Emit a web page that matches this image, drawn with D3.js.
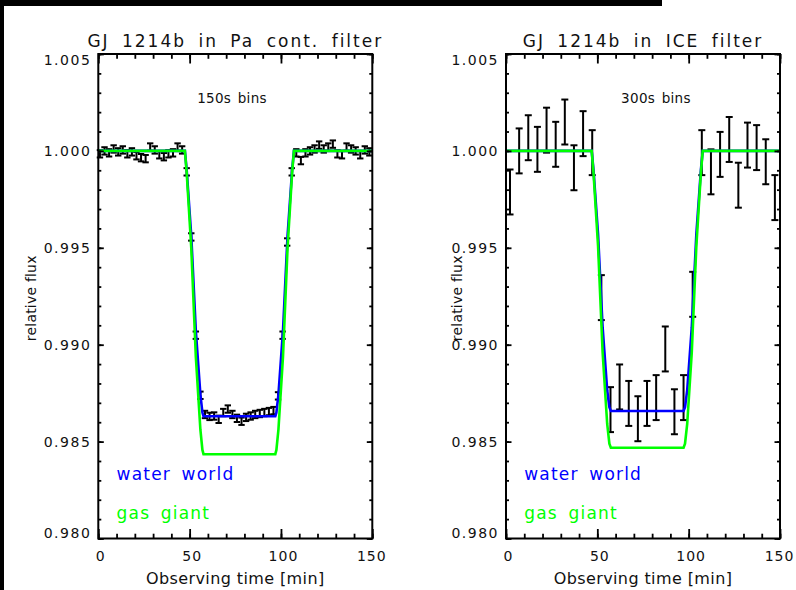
<!DOCTYPE html>
<html>
<head>
<meta charset="utf-8">
<script src="https://cdn.jsdelivr.net/npm/d3@7"></script>
<style>
  body { margin: 0; background: #fff; }
  text { font-family: "DejaVu Sans", sans-serif; fill: #111; }
</style>
</head>
<body>
<svg id="chart" width="796" height="590"></svg>
<script>
// axis ticks
const xMajor = [0, 50, 100, 150];
const xMinor = [0, 10, 20, 30, 40, 50, 60, 70, 80, 90, 100, 110, 120, 130, 140, 150];
const yMajor = [0.980, 0.985, 0.990, 0.995, 1.000, 1.005];
const yMinor = [0.980, 0.981, 0.982, 0.983, 0.984, 0.985, 0.986, 0.987, 0.988, 0.989, 0.990,
                0.991, 0.992, 0.993, 0.994, 0.995, 0.996, 0.997, 0.998, 0.999, 1.000,
                1.001, 1.002, 1.003, 1.004, 1.005];

// Pa cont. filter, 150s bins
const paTime = [0.9, 3.4, 5.9, 8.4, 10.9, 13.4, 15.9, 18.4, 20.9, 23.4, 25.9, 28.4, 30.9, 33.4, 35.9,
                38.4, 40.9, 43.4, 45.9, 48.4, 50.9, 53.4, 55.9, 58.4, 60.9, 63.4, 65.9, 68.4, 70.9,
                73.4, 75.9, 78.4, 80.9, 83.4, 85.9, 88.4, 90.9, 93.4, 95.9, 98.4, 100.9, 103.4, 105.9,
                108.4, 110.9, 113.4, 115.9, 118.4, 120.9, 123.4, 125.9, 128.4, 130.9, 133.4, 135.9,
                138.4, 140.9, 143.4, 145.9, 148.4];
const paFlux = [0.99985, 1.00000, 0.99990, 1.00010, 0.99995, 1.00005, 0.99985, 0.99995, 0.99975,
                0.99965, 0.99960, 1.00020, 1.00005, 0.99980, 0.99970, 0.99985, 0.99990, 1.00020, 1.00005,
                0.99892, 0.99556, 0.99049, 0.98739,
                0.98640, 0.98630, 0.98632, 0.98615, 0.98650, 0.98668, 0.98640, 0.98620,
                0.98605, 0.98625, 0.98632, 0.98640, 0.98645, 0.98650, 0.98655, 0.98660,
                0.98736, 0.99049, 0.99530, 0.99892,
                0.99990, 0.99950, 0.99990, 1.00000, 1.00010, 1.00030, 1.00010, 1.00020, 1.00035,
                0.99985, 0.99980, 1.00020, 1.00010, 1.00000, 0.99980, 1.00005, 0.99995];
const paErr = 0.00019;

// ICE filter, 300s bins
const iceTime = [2.2, 7.2, 12.2, 17.2, 22.2, 27.2, 32.2, 37.2, 42.2, 47.2, 52.2, 57.2, 62.2, 67.2, 72.2,
                 77.2, 82.2, 87.2, 92.2, 97.2, 102.2, 107.2, 112.2, 117.2, 122.2, 127.2, 132.2, 137.2,
                 142.2, 147.2];
const iceFlux = [0.99788, 1.00000, 1.00068, 1.00008, 1.00107, 1.00034, 1.00149, 0.99913, 1.00089, 0.99991,
                 0.99243, 0.98665, 0.98782, 0.98697, 0.98618, 0.98697, 0.98727, 0.98978, 0.98654, 0.98727,
                 0.99260, 0.99991, 0.99892, 0.99982, 1.00059, 0.99823, 1.00030, 1.00017, 0.99944, 0.99759];
const iceErr = 0.00116;

// model light curves
const paModelTime = [0, 47.4, 48.4, 50.9, 53.4, 55.9, 57.0, 57.6, 96.9, 97.5, 98.6, 101.1, 103.6, 106.1, 107.1, 150];
const paWater = [1, 1, 0.99900, 0.99561, 0.99070, 0.98741, 0.98650, 0.98631,
                 0.98631, 0.98650, 0.98741, 0.99070, 0.99561, 0.99900, 1, 1];
const paGas = [1, 1, 0.99886, 0.99498, 0.98937, 0.98560, 0.98457, 0.98435,
               0.98435, 0.98457, 0.98560, 0.98937, 0.99498, 0.99886, 1, 1];

const iceModelTime = [0, 46.9, 47.9, 50.4, 52.9, 55.4, 56.6, 57.4, 97.2, 98.0, 99.2, 101.7, 104.2, 106.7, 107.7, 150];
const iceWater = [1, 1, 0.99902, 0.99569, 0.99089, 0.98765, 0.98677, 0.98658,
                  0.98658, 0.98677, 0.98765, 0.99089, 0.99569, 0.99902, 1, 1];
const iceGas = [1, 1, 0.99888, 0.99508, 0.98960, 0.98591, 0.98489, 0.98468,
                0.98468, 0.98489, 0.98591, 0.98960, 0.99508, 0.99888, 1, 1];

const svg = d3.select("#chart");

// black strips along the edge of the original image
svg.append("rect").attr("x", 0).attr("y", 0).attr("width", 662).attr("height", 6).attr("fill", "#000");
svg.append("rect").attr("x", 0).attr("y", 0).attr("width", 4).attr("height", 590).attr("fill", "#000");

const plotTop = 54, plotBottom = 538.5, plotW = 274;

const panels = [
  { left: 98.3, title: "GJ 1214b in Pa cont. filter", bins: "150s bins", binsX: 73.2,
    time: paTime, flux: paFlux, err: paErr, cap: 3.2,
    mTime: paModelTime, water: paWater, gas: paGas, ylabX: 36 },
  { left: 506, title: "GJ 1214b in ICE filter", bins: "300s bins", binsX: 82.1,
    time: iceTime, flux: iceFlux, err: iceErr, cap: 3.5,
    mTime: iceModelTime, water: iceWater, gas: iceGas, ylabX: 462 }
];

panels.forEach(function(p) {
  var x = d3.scaleLinear().domain([0, 150]).range([p.left, p.left + plotW]);
  var y = d3.scaleLinear().domain([0.980, 1.005]).range([plotBottom, plotTop]);
  var g = svg.append("g");

  // error bars
  var bars = g.append("g").attr("stroke", "#000").attr("stroke-width", 2).attr("fill", "none");
  p.time.forEach(function(t, i) {
    var cx = x(t), y0 = y(p.flux[i] - p.err), y1 = y(p.flux[i] + p.err);
    bars.append("line").attr("x1", cx).attr("x2", cx).attr("y1", y0).attr("y2", y1);
    bars.append("line").attr("x1", cx - p.cap).attr("x2", cx + p.cap).attr("y1", y0).attr("y2", y0);
    bars.append("line").attr("x1", cx - p.cap).attr("x2", cx + p.cap).attr("y1", y1).attr("y2", y1);
  });

  // models
  var line = d3.line().x(function(d) { return x(d[0]); }).y(function(d) { return y(d[1]); });
  g.append("path")
    .attr("d", line(p.mTime.map(function(t, i) { return [t, p.water[i]]; })))
    .attr("fill", "none").attr("stroke", "#0000ff").attr("stroke-width", 2.6);
  g.append("path")
    .attr("d", line(p.mTime.map(function(t, i) { return [t, p.gas[i]]; })))
    .attr("fill", "none").attr("stroke", "#00ff00").attr("stroke-width", 2.6);

  // axes, ticks inward on all four sides
  function style(ax) {
    ax.select(".domain").remove();
    ax.selectAll(".tick line").attr("stroke", "#000").attr("stroke-width", 1.8);
    ax.selectAll("text").style("font-family", "DejaVu Sans").style("font-size", "14px")
      .style("letter-spacing", "1.5px").attr("fill", "#111");
  }
  var fmt = d3.format(".3f");
  var bx = g.append("g").attr("transform", "translate(0," + plotBottom + ")")
    .call(d3.axisBottom(x).tickValues(xMajor).tickSize(-9.5).tickPadding(13).tickFormat(d3.format("d")));
  style(bx);
  bx.selectAll("text").style("letter-spacing", "1px").attr("dx", function(d) { return d === 150 ? "-1" : "2"; });
  style(g.append("g").attr("transform", "translate(0," + plotBottom + ")")
    .call(d3.axisBottom(x).tickValues(xMinor).tickSize(-4.8).tickFormat("")));
  style(g.append("g").attr("transform", "translate(0," + plotTop + ")")
    .call(d3.axisTop(x).tickValues(xMajor).tickSize(-9.5).tickFormat("")));
  style(g.append("g").attr("transform", "translate(0," + plotTop + ")")
    .call(d3.axisTop(x).tickValues(xMinor).tickSize(-4.8).tickFormat("")));

  var ly = g.append("g").attr("transform", "translate(" + p.left + ",0)")
    .call(d3.axisLeft(y).tickValues(yMajor).tickSize(-5.5).tickPadding(7).tickFormat(fmt));
  style(ly);
  ly.selectAll(".tick text").attr("dy", function(d) {
    if (d === 1.005) return "0.75em";
    if (d === 0.980) return "-0.05em";
    return "0.32em";
  });
  style(g.append("g").attr("transform", "translate(" + p.left + ",0)")
    .call(d3.axisLeft(y).tickValues(yMinor).tickSize(-3).tickFormat("")));
  style(g.append("g").attr("transform", "translate(" + (p.left + plotW) + ",0)")
    .call(d3.axisRight(y).tickValues(yMajor).tickSize(-5.5).tickFormat("")));
  style(g.append("g").attr("transform", "translate(" + (p.left + plotW) + ",0)")
    .call(d3.axisRight(y).tickValues(yMinor).tickSize(-3).tickFormat("")));

  // frame
  g.append("rect").attr("x", p.left).attr("y", plotTop).attr("width", plotW).attr("height", plotBottom - plotTop)
    .attr("fill", "none").attr("stroke", "#000").attr("stroke-width", 2);

  // texts
  g.append("text").attr("x", p.left + plotW / 2).attr("y", 46.5).attr("text-anchor", "middle")
    .style("font-size", "17px").style("letter-spacing", "2px").style("word-spacing", "5px")
    .text(p.title);
  g.append("text").attr("x", x(p.binsX)).attr("y", y(1.00246)).attr("text-anchor", "middle")
    .style("font-size", "13.5px").style("letter-spacing", "0.3px").style("word-spacing", "2px")
    .text(p.bins);
  g.append("text").attr("x", x(10)).attr("y", y(0.9830))
    .style("font-size", "17px").style("letter-spacing", "1.2px").style("word-spacing", "4px")
    .style("fill", "#0000ff").text("water world");
  g.append("text").attr("x", x(10)).attr("y", y(0.9810))
    .style("font-size", "17px").style("letter-spacing", "1.2px").style("word-spacing", "4px")
    .style("fill", "#00ff00").text("gas giant");
  g.append("text").attr("x", p.left + plotW / 2).attr("y", 584).attr("text-anchor", "middle")
    .style("font-size", "16px").style("letter-spacing", "0.4px")
    .text("Observing time [min]");
  g.append("text").attr("transform", "translate(" + p.ylabX + "," + ((plotTop + plotBottom) / 2 + 2) + ") rotate(-90)")
    .attr("text-anchor", "middle")
    .style("font-size", "14px").style("letter-spacing", "0.2px")
    .text("relative flux");
});
</script>
</body>
</html>
